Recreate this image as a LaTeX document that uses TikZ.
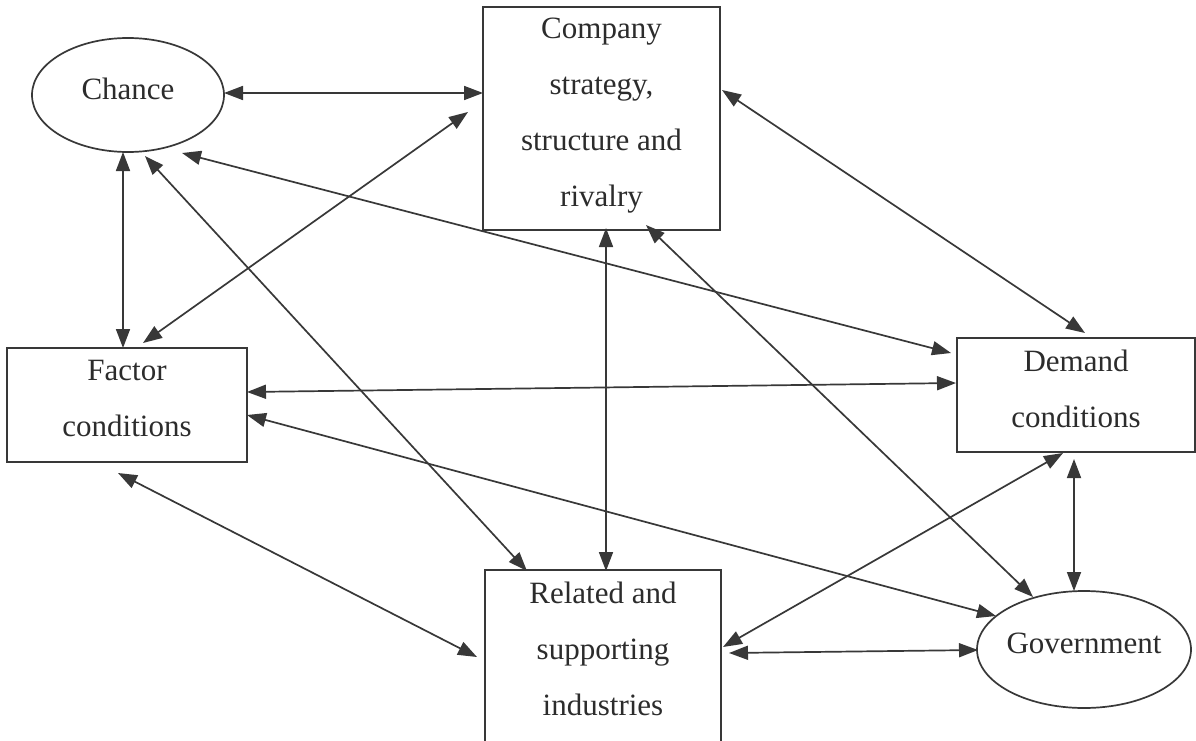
\documentclass[tikz,border=0pt]{standalone}
\usepackage{fontspec}
\setmainfont{Liberation Serif}
\usetikzlibrary{arrows.meta,calc,shapes.geometric}
\definecolor{ink}{HTML}{383838}
\definecolor{txt}{HTML}{2C2C2C}
\begin{document}
\begin{tikzpicture}[x=1pt,y=-1pt,
  box/.style={draw=ink, line width=1.7pt, rectangle, inner sep=0pt},
  oval/.style={draw=ink, line width=1.7pt, ellipse, inner sep=0pt},
  lbl/.style={font=\fontsize{31}{56}\selectfont, text=txt, align=center, yshift=6.5pt},
  arr/.style={draw=ink, line width=1.7pt, {Triangle[length=19pt,width=14pt]}-{Triangle[length=19pt,width=14pt]}}]
\fill[white] (0,0) rectangle (1196,741);
\useasboundingbox (0,0) rectangle (1196,741);

\node[oval, minimum width=192pt, minimum height=114pt, label={[lbl]center:Chance}] (chance) at (128,95) {};
\node[box, minimum width=237pt, minimum height=223pt, label={[lbl,yshift=-3.5pt]center:{Company\\strategy,\\structure and\\rivalry}}] (company) at (601.5,118.5) {};
\node[box, minimum width=240pt, minimum height=114pt, label={[lbl]center:{Factor\\conditions}}] (factor) at (127,405) {};
\node[box, minimum width=238pt, minimum height=114pt, label={[lbl]center:{Demand\\conditions}}] (demand) at (1076,395) {};
\node[box, minimum width=236pt, minimum height=172pt, label={[lbl,yshift=1pt]center:{Related and\\supporting\\industries}}] (related) at (603,656) {};
\node[oval, minimum width=214pt, minimum height=117pt, label={[lbl]center:Government}] (government) at (1084,649.5) {};

% connectors
\draw[arr] ($(chance)+(96,-2)$) -- ($(company)+(-118.5,-25.5)$);
\draw[arr] ($(chance)+(-5,57)$) -- ($(factor)+(-4,-57)$);
\draw[arr] ($(factor)+(16,-62)$) -- ($(company)+(-133.5,-6.5)$);
\draw[arr] ($(chance)+(54,58)$) -- ($(demand)+(-125,-42)$);
\draw[arr] ($(chance)+(17,61)$) -- ($(related)+(-76,-85)$);
\draw[arr] ($(company)+(120.5,-28.5)$) -- ($(demand)+(9,-62)$);
\draw[arr] ($(company)+(4.5,109.5)$) -- ($(related)+(3,-85)$);
\draw[arr] ($(company)+(44.5,106.5)$) -- ($(government)+(-51,-52.5)$);
\draw[arr] ($(factor)+(120,-13)$) -- ($(demand)+(-120,-12)$);
\draw[arr] ($(factor)+(120,10)$) -- ($(government)+(-88,-33.5)$);
\draw[arr] ($(factor)+(-9,68)$) -- ($(related)+(-126,1)$);
\draw[arr] ($(demand)+(-2,64)$) -- ($(government)+(-10,-58.5)$);
\draw[arr] ($(related)+(120,-9)$) -- ($(demand)+(-13,58)$);
\draw[arr] ($(related)+(126,-3)$) -- ($(government)+(-106,0.5)$);
\end{tikzpicture}
\end{document}
